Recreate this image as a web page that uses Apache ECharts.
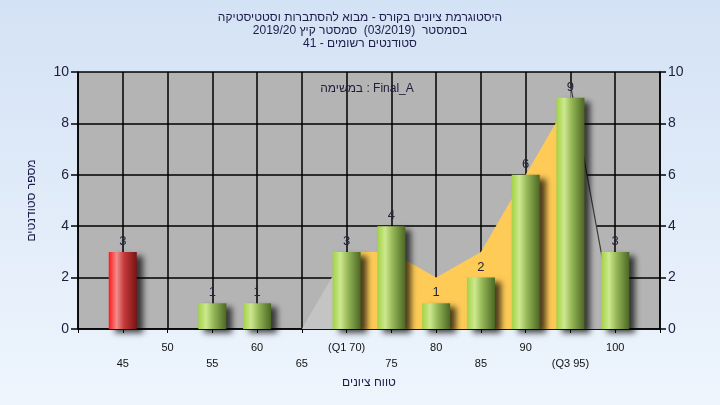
<!DOCTYPE html>
<html>
<head>
<meta charset="utf-8">
<script src="https://cdn.jsdelivr.net/npm/echarts@6/dist/echarts.min.js"></script>
<style>
html,body{margin:0;padding:0;width:720px;height:405px;overflow:hidden;}
#c{width:720px;height:405px;background:linear-gradient(to bottom,#d4e2f5,#eef5fd);}
</style>
</head>
<body>
<div id="c"></div>
<script>
// ---- data ----
const titleLines = [
  'היסטוגרמת ציונים בקורס - מבוא להסתברות וסטטיסטיקה',
  'בסמסטר  (03/2019)  סמסטר קיץ 2019/20',
  'סטודנטים רשומים - 41'
];
const taskLabel = 'במשימה : Final_A';
const yAxisName = 'מספר סטודנטים';
const xAxisName = 'טווח ציונים';
const tickValues = [45, 50, 55, 60, 65, 70, 75, 80, 85, 90, 95, 100];
const tickLabels = ['45', '50', '55', '60', '65', '(Q1 70)', '75', '80', '85', '90', '(Q3 95)', '100'];
const scores = [45, 55, 60, 70, 75, 80, 85, 90, 95, 100];
const counts = [3, 1, 1, 3, 4, 1, 2, 6, 9, 3];
const failScores = [45];
const iqrScores = [70, 75, 80, 85, 90, 95];
const iqrValues = [3, 3, 2, 3, 6, 9];
const lowTailScores = [65, 70];
const lowTailValues = [0, 3];
const highTailScores = [95, 100];
const highTailValues = [9.5, 0];

const green = {type:'linear',x:0,y:0,x2:1,y2:0,colorStops:[
  {offset:0,color:'#a2d244'},{offset:0.28,color:'#cde88f'},{offset:0.55,color:'#94b656'},{offset:1,color:'#4c6724'}]};
const red = {type:'linear',x:0,y:0,x2:1,y2:0,colorStops:[
  {offset:0,color:'#ff1616'},{offset:0.28,color:'#f28c8c'},{offset:0.55,color:'#c43a3a'},{offset:1,color:'#781212'}]};

const zip = (a,b)=>a.map((v,i)=>[v,b[i]]);
const chart = echarts.init(document.getElementById('c'));
const labelFor = v => {
  const i = tickValues.indexOf(v);
  if (i < 0) return '';
  return (i % 2 === 0 ? '\n' : '') + tickLabels[i];
};
const fontFam = 'Liberation Sans, Arial, sans-serif';
const yAxisCommon = {
  type:'value', min:0, max:10, interval:2,
  axisLine:{show:true,lineStyle:{color:'#000',width:1.5}},
  axisTick:{show:true,length:7,lineStyle:{color:'#000',width:1.5}},
  axisLabel:{color:'#1e1e3c',fontSize:14,fontFamily:fontFam,margin:9},
  splitLine:{show:true,lineStyle:{color:'#000',width:1.5}}
};
chart.setOption({
  animation:false,
  backgroundColor:'transparent',
  title:[
    {text:titleLines.join('\n'),left:'center',top:6,textStyle:{fontSize:12,fontWeight:'normal',color:'#1c1c48',fontFamily:fontFam,lineHeight:13}},
    {text:taskLabel,left:362,top:78,textAlign:'center',textStyle:{fontSize:12,fontWeight:'normal',color:'#221a3a',fontFamily:fontFam}}
  ],
  grid:{left:78,right:60,top:72,bottom:76,show:true,backgroundColor:'#b4b4b4',borderWidth:0},
  xAxis:{
    type:'value',min:40,max:105,interval:5,
    name:xAxisName,nameLocation:'middle',nameGap:45,
    nameTextStyle:{fontSize:12,color:'#1c1c48',fontFamily:fontFam},
    axisLine:{show:true,lineStyle:{color:'#000',width:1.5}},
    axisTick:{show:true,length:4,lineStyle:{color:'#000',width:1}},
    axisLabel:{formatter:labelFor,fontSize:11,color:'#111',fontFamily:fontFam,lineHeight:16,margin:11,showMinLabel:true,showMaxLabel:true},
    splitLine:{show:true,lineStyle:{color:'#000',width:1.5}}
  },
  yAxis:[
    Object.assign({},yAxisCommon,{position:'left',name:yAxisName,nameLocation:'middle',nameGap:40,
      nameTextStyle:{fontSize:12,color:'#1c1c48',fontFamily:fontFam}}),
    Object.assign({},yAxisCommon,{position:'right',splitLine:{show:false},
      axisTick:{show:true,length:6,lineStyle:{color:'#000',width:1.5}},
      axisLabel:{color:'#1e1e3c',fontSize:14,fontFamily:fontFam,margin:8}})
  ],
  series:[
    {type:'line',data:zip(lowTailScores,lowTailValues),symbol:'none',lineStyle:{width:0},
      areaStyle:{color:'#c4c4c4',opacity:1},silent:true,z:1},
    {type:'line',data:zip(highTailScores,highTailValues),symbol:'none',lineStyle:{width:1.2,color:'#3a3a3a'},
      areaStyle:{color:'#b4b4b4',opacity:1},silent:true,z:1},
    {type:'line',data:zip(iqrScores,iqrValues),symbol:'none',lineStyle:{width:0},
      areaStyle:{color:'#fecb57',opacity:1},silent:true,z:2},
    {type:'bar',barWidth:28,z:3,
      data:scores.map((s,i)=>({value:[s,counts[i]],itemStyle:{color:failScores.includes(s)?red:green}})),
      itemStyle:{shadowColor:'rgba(0,0,0,0.7)',shadowBlur:6,shadowOffsetX:6,shadowOffsetY:4},
      label:{show:true,position:'top',distance:4,fontSize:13,color:'#23233a',fontFamily:fontFam,
        formatter:p=>p.value[1]}}
  ]
});
</script>
</body>
</html>
